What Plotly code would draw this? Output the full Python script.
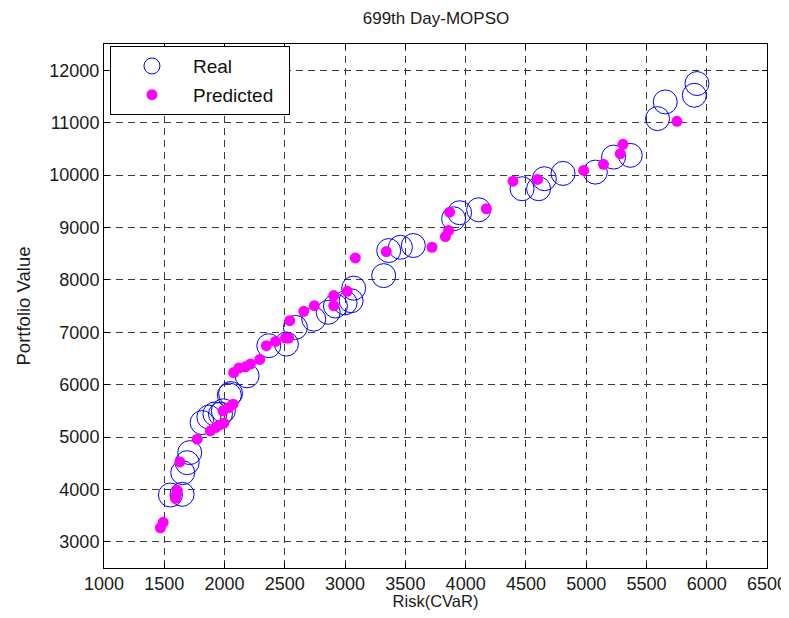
import plotly.graph_objects as go

real_risk = [1551, 1648, 1653, 1690, 1711, 1814, 1870, 1920, 1966, 1990, 2040, 2050,
             2187, 2367, 2513, 2588, 2740, 2860, 2920, 3000, 3050, 3071, 3320, 3362,
             3459, 3566, 3900, 3950, 4108, 4468, 4605, 4653, 4808, 5076, 5227, 5366,
             5592, 5656, 5897, 5919]
real_value = [3893, 3906, 4319, 4510, 4702, 5275, 5380, 5440, 5436, 5500, 5800, 5830,
              6168, 6742, 6774, 7092, 7250, 7380, 7500, 7560, 7600, 7840, 8080, 8558,
              8621, 8654, 9165, 9280, 9336, 9738, 9738, 9929, 10030, 10055, 10342, 10375,
              11076, 11394, 11522, 11745]

pred_risk = [1468, 1491, 1593, 1601, 1607, 1629, 1773, 1883, 1925, 1960, 1994, 1988,
             2035, 2071, 2076, 2118, 2173, 2215, 2292, 2347, 2422, 2505, 2532, 2541,
             2657, 2745, 2906, 2906, 3017, 3085, 3342, 3721, 3832, 3859, 3867, 4172,
             4393, 4597, 4979, 5144, 5283, 5305, 5753]
pred_value = [3268, 3371, 3830, 3906, 3983, 4524, 4958, 5117, 5180, 5231, 5264, 5499,
              5562, 5627, 6231, 6315, 6340, 6392, 6480, 6742, 6824, 6889, 6889, 7220,
              7398, 7507, 7698, 7507, 7780, 8418, 8539, 8621, 8826, 8941, 9290, 9356,
              9883, 9916, 10088, 10203, 10407, 10585, 11025]

x_ticks = [1000, 1500, 2000, 2500, 3000, 3500, 4000, 4500, 5000, 5500, 6000, 6500]
y_ticks = [3000, 4000, 5000, 6000, 7000, 8000, 9000, 10000, 11000, 12000]

FONT = "Liberation Sans, Arial, sans-serif"
TXT = "#1a1a1a"

fig = go.Figure()
fig.add_trace(go.Scatter(
    x=real_risk, y=real_value, mode="markers", name="Real", legendgroup="a",
    marker=dict(symbol="circle-open", size=24, color="#0000ff",
                line=dict(color="#0000ff", width=1)),
))
fig.add_trace(go.Scatter(
    x=pred_risk, y=pred_value, mode="markers", name="Predicted\u00a0\u00a0", legendgroup="b",
    marker=dict(symbol="circle", size=11, color="#ff00ff"),
))

axis_common = dict(
    showline=True, linecolor="black", linewidth=1, mirror="ticks",
    ticks="inside", ticklen=5, tickcolor="black",
    showgrid=True, gridcolor="#3a3a3a", griddash="7px,5px", gridwidth=1,
    zeroline=False, automargin=False, ticklabeloverflow="allow",
    tickfont=dict(family=FONT, size=18, color=TXT),
)

fig.update_xaxes(range=[1000, 6500], tickvals=x_ticks,
                 ticktext=[str(v) for v in x_ticks],
                 ticklabelstandoff=-1,
                 title=dict(text="Risk(CVaR)", font=dict(family=FONT, size=16.5, color=TXT),
                            standoff=9),
                 **axis_common)
fig.update_yaxes(range=[2500, 12500], tickvals=y_ticks,
                 ticktext=[str(v) for v in y_ticks],
                 title=dict(text="Portfolio Value", font=dict(family=FONT, size=18.5, color=TXT),
                            standoff=13),
                 **axis_common)

fig.update_layout(
    width=781, height=602,
    margin=dict(l=96, r=22, t=36, b=42, autoexpand=False),
    paper_bgcolor="white", plot_bgcolor="white",
    title=dict(text="699th Day-MOPSO", x=0.548, xanchor="center",
               y=1 - 10 / 602, yanchor="middle",
               font=dict(family=FONT, size=17, color=TXT)),
    legend=dict(x=0.009, y=0.996, xanchor="left", yanchor="top",
                bgcolor="white", bordercolor="black", borderwidth=1,
                font=dict(family=FONT, size=19, color="#111111"),
                itemwidth=72, traceorder="grouped", tracegroupgap=1),
    showlegend=True,
)

fig.write_html("out.html")
